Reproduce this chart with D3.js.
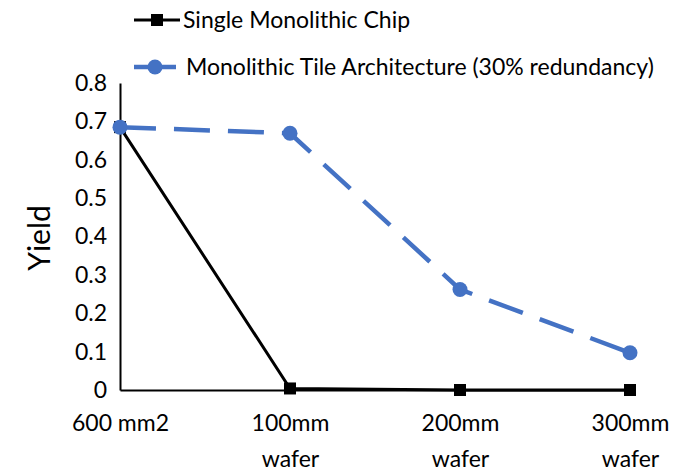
<!DOCTYPE html>
<html><head><meta charset="utf-8">
<script src="https://cdn.jsdelivr.net/npm/d3@7"></script>
<style>body{margin:0;background:#fff}svg{display:block}text{font-family:Lato,"Open Sans",sans-serif;fill:#000}</style>
</head><body><svg id="c" width="695" height="471"></svg>
<script>
const categories = ["600 mm2", "100mm\nwafer", "200mm\nwafer", "300mm\nwafer"];
const singleChip = [0.685, 0.004, 0.0, 0.0];
const tileArch = [0.685, 0.669, 0.262, 0.097];
const yTicks = [0, 0.1, 0.2, 0.3, 0.4, 0.5, 0.6, 0.7, 0.8];
const seriesNames = ["Single Monolithic Chip", "Monolithic Tile Architecture (30% redundancy)"];

const svg = d3.select("#c");
const x = d3.scalePoint().domain(categories).range([120, 630]);
const y = d3.scaleLinear().domain([0, 0.8]).range([390, 83]);
const blue = "#4472C4";
const fs = 23;

// axes
const yAxis = svg.append("g").attr("transform", "translate(120,0)")
  .call(d3.axisLeft(y).tickValues(yTicks).tickSize(0).tickPadding(13).tickFormat(d => d === 0 ? "0" : d3.format(".1f")(d)));
yAxis.select(".domain").attr("stroke", "#000").attr("stroke-width", 2);
yAxis.selectAll("text").attr("font-size", fs).style("font-family", "Lato");

const xAxis = svg.append("g").attr("transform", "translate(0,390)")
  .call(d3.axisBottom(x).tickSize(0).tickFormat(""));
xAxis.select(".domain").attr("stroke", "#000").attr("stroke-width", 2);
xAxis.selectAll(".tick").each(function(d) {
  const lines = d.split("\n");
  const t = d3.select(this).append("text").attr("text-anchor", "middle").attr("font-size", fs).attr("fill", "#000");
  lines.forEach((l, i) => t.append("tspan").attr("x", 0).attr("y", 41 + i * 36).text(l));
});

svg.append("text").attr("transform", "translate(50,238) rotate(-90)")
  .attr("text-anchor", "middle").attr("font-size", 30).text("Yield");

const line = d3.line().x((d, i) => x(categories[i])).y(d => y(d));

svg.append("path").datum(tileArch).attr("d", line).attr("fill", "none")
  .attr("stroke", blue).attr("stroke-width", 4.5).attr("stroke-dasharray", "36,18");
svg.append("path").datum(singleChip).attr("d", line).attr("fill", "none")
  .attr("stroke", "#000").attr("stroke-width", 3);

svg.selectAll(".sq").data(singleChip).enter().append("rect")
  .attr("x", (d, i) => x(categories[i]) - 6).attr("y", d => y(d) - 6)
  .attr("width", 12).attr("height", 12).attr("fill", "#000");
svg.selectAll(".ci").data(tileArch).enter().append("circle")
  .attr("cx", (d, i) => x(categories[i])).attr("cy", d => y(d)).attr("r", 7.5).attr("fill", blue);

// legend
const lg = svg.append("g");
const ly = [20, 67];
lg.append("line").attr("x1", 134).attr("x2", 180).attr("y1", ly[0]).attr("y2", ly[0]).attr("stroke", "#000").attr("stroke-width", 3);
lg.append("rect").attr("x", 151).attr("y", ly[0] - 6).attr("width", 12).attr("height", 12).attr("fill", "#000");
lg.append("line").attr("x1", 134).attr("x2", 176).attr("y1", ly[1]).attr("y2", ly[1]).attr("stroke", blue).attr("stroke-width", 4.5);
lg.append("circle").attr("cx", 155).attr("cy", ly[1]).attr("r", 7.5).attr("fill", blue);
seriesNames.forEach((n, i) => lg.append("text").attr("x", i === 0 ? 183 : 186).attr("y", ly[i]).attr("dy", "0.35em").attr("font-size", fs).text(n));
</script></body></html>
